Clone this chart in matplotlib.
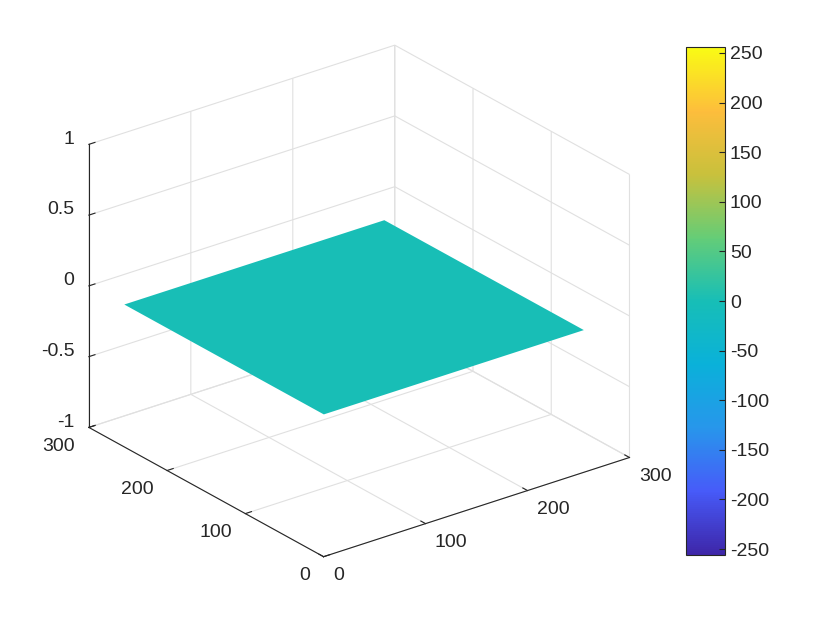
import numpy as np
import matplotlib
matplotlib.use("Agg")
import matplotlib.pyplot as plt
from matplotlib.colors import LinearSegmentedColormap, Normalize
from matplotlib.cm import ScalarMappable

# data
x_edges = [1, 256]
y_edges = [1, 256]
z_level = 0.0
c_value = 0.0
clim = (-256, 256)
xy_ticks = [0, 100, 200, 300]
xy_ticklabels = ["0", "100", "200", "300"]
z_ticks = [-1, -0.5, 0, 0.5, 1]
z_ticklabels = ["-1", "-0.5", "0", "0.5", "1"]
cbar_ticks = list(range(-250, 251, 50))

# approx MATLAB parula
parula = LinearSegmentedColormap.from_list("parula", [
    (0.000, (0.2422, 0.1504, 0.6603)),
    (0.125, (0.2780, 0.3556, 0.9777)),
    (0.250, (0.1540, 0.5902, 0.9218)),
    (0.375, (0.0383, 0.6940, 0.8529)),
    (0.500, (0.0904, 0.7457, 0.7158)),
    (0.625, (0.3946, 0.8029, 0.4660)),
    (0.750, (0.7866, 0.7560, 0.2364)),
    (0.875, (0.9932, 0.7423, 0.2351)),
    (1.000, (0.9769, 0.9839, 0.0805)),
])

fs = 14
plt.rcParams['font.family'] = ['Liberation Sans', 'DejaVu Sans']
plt.rcParams['font.size'] = fs
plt.rcParams['axes.unicode_minus'] = False
txt = (0.15, 0.15, 0.15)
gridc = (0.88, 0.88, 0.88)

fig = plt.figure(figsize=(8.3, 6.23), dpi=100)
ax = fig.add_axes([0.013, 0.024, 0.82, 0.96], projection='3d')
ax.set_proj_type('ortho')
ax.view_init(elev=25, azim=-127.5)
ax.set_box_aspect((1, 1, 0.81), zoom=1.02)

norm = Normalize(*clim)
X, Y = np.meshgrid(x_edges, y_edges)
Z = np.full_like(X, z_level, dtype=float)
ax.plot_surface(X, Y, Z, color=parula(norm(c_value)), shade=False,
                linewidth=0, antialiased=True)

ax.set_xlim(0, 300)
ax.set_ylim(0, 300)
ax.set_zlim(-1, 1)
ax.set_xticks(xy_ticks)
ax.set_yticks(xy_ticks)
ax.set_zticks(z_ticks)
# MATLAB style alignment of the tick labels
ax.set_xticklabels(xy_ticklabels, ha='left', va='center_baseline')
ax.set_yticklabels(xy_ticklabels, ha='right', va='center_baseline')
ax.set_zticklabels(z_ticklabels, ha='right', va='baseline')

for a in (ax.xaxis, ax.yaxis, ax.zaxis):
    a.set_pane_color((1, 1, 1, 0))
    a.pane.set_edgecolor(gridc)
    a.line.set_color(txt)
    a.line.set_linewidth(0.8)
    a._axinfo['grid'].update(color=gridc, linewidth=0.8)
    a._axinfo['tick'].update(inward_factor=0.0, outward_factor=0.25)
    a.set_tick_params(colors=txt, labelsize=fs)

ax.xaxis.set_tick_params(pad=1)
ax.yaxis.set_tick_params(pad=2)
ax.zaxis.set_tick_params(pad=-2)

cax = fig.add_axes([686 / 830, 68 / 623, 39 / 830, 508 / 623])
cb = fig.colorbar(ScalarMappable(norm=norm, cmap=parula), cax=cax, ticks=cbar_ticks)
cb.outline.set_edgecolor(txt)
cb.outline.set_linewidth(0.8)
cax.tick_params(direction='in', length=4, colors=txt, labelsize=fs)

fig.savefig("out.png", dpi=100)
